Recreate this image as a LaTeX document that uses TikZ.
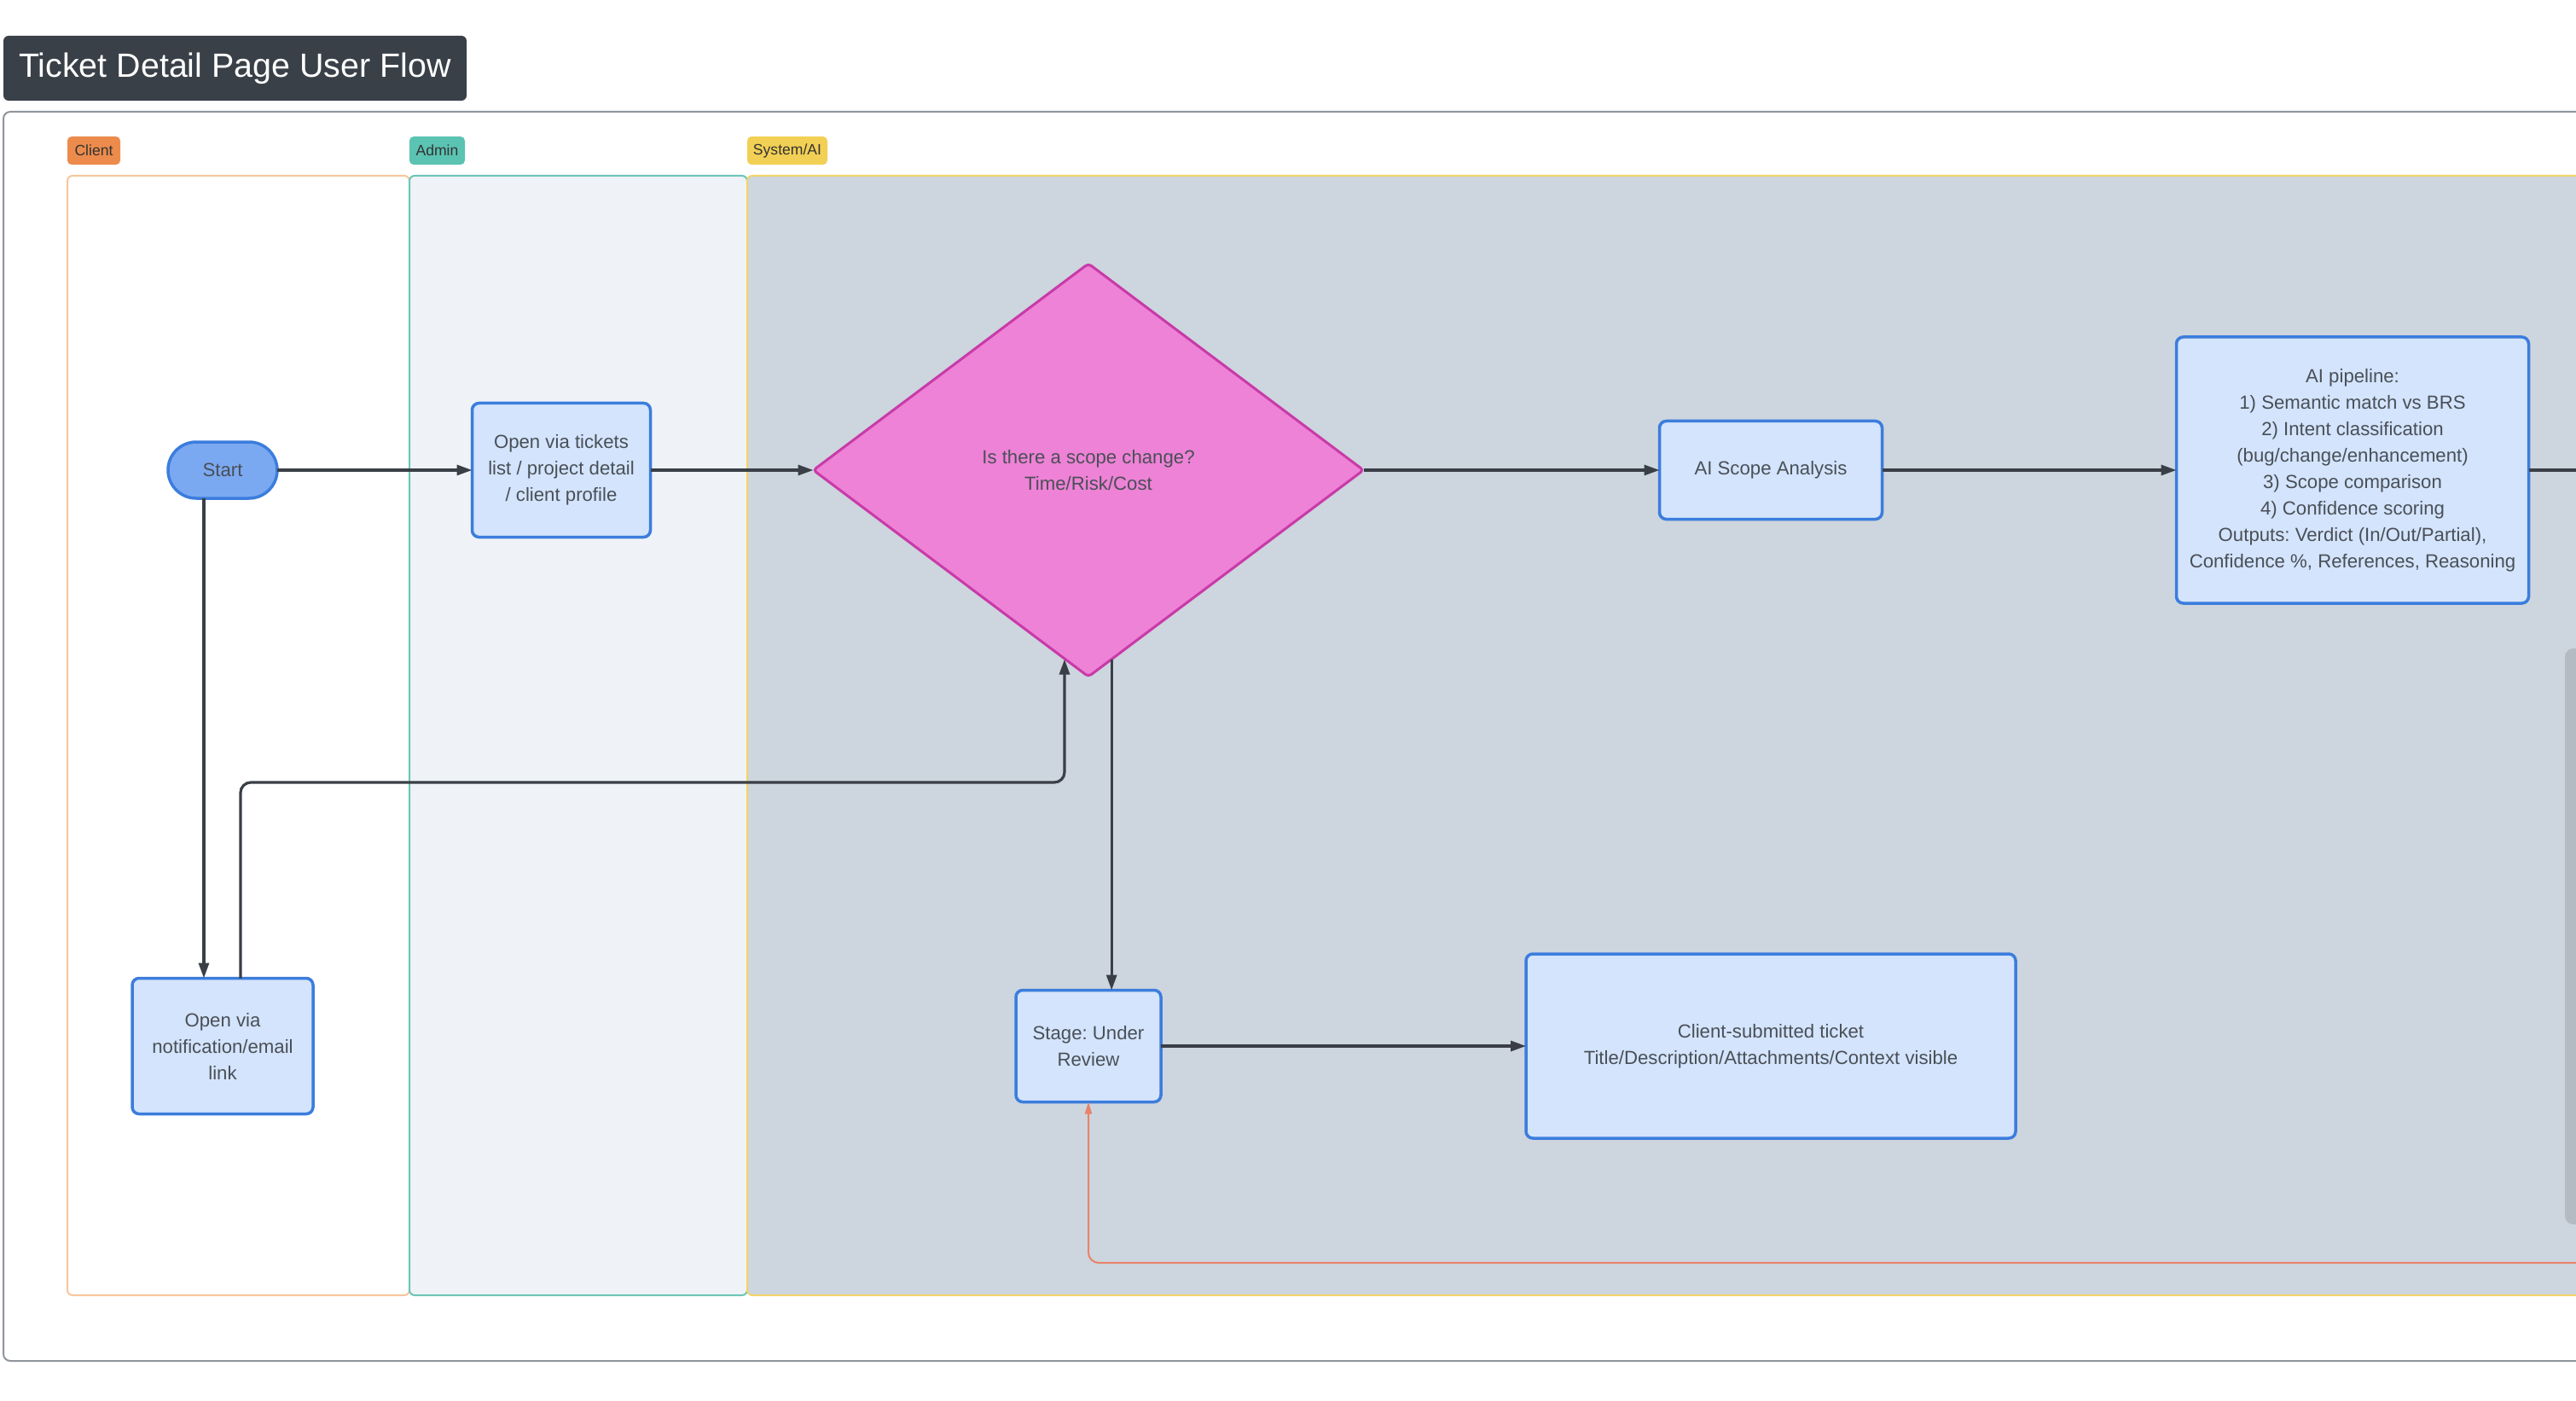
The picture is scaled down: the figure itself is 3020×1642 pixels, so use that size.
\documentclass[tikz,border=0pt]{standalone}
\usepackage{fontspec}
\setmainfont{Liberation Sans}
\frenchspacing
\usetikzlibrary{shapes.geometric,arrows.meta}
\definecolor{txtgray}{HTML}{4A4F57}
\definecolor{boxfill}{HTML}{D3E4FC}
\definecolor{boxline}{HTML}{3B7DDD}
\definecolor{startfill}{HTML}{7BA9F1}
\definecolor{decfill}{HTML}{EE82D6}
\definecolor{decline}{HTML}{C93AA8}
\definecolor{arrcol}{HTML}{3A3F47}
\definecolor{orcol}{HTML}{E8836A}
\definecolor{adminfill}{HTML}{EFF3F7}
\definecolor{sysfill}{HTML}{CDD5DE}
\definecolor{clientline}{HTML}{F6C79C}
\definecolor{adminline}{HTML}{6CC6B8}
\definecolor{sysline}{HTML}{F0D46A}
\definecolor{clientbadge}{HTML}{EC8B4C}
\definecolor{adminbadge}{HTML}{5BC3B2}
\definecolor{sysbadge}{HTML}{F2D055}
\definecolor{titlefill}{HTML}{3A4048}
\definecolor{framecol}{HTML}{8F959C}
\definecolor{scrollcol}{HTML}{B4BBC3}
\begin{document}
\begin{tikzpicture}[x=0.5pt,y=-0.5pt,
  basetext/.style={font=\fontsize{11.1}{15.5}\selectfont\frenchspacing, text=txtgray, align=center},
  procbox/.style={basetext, draw=boxline, fill=boxfill, line width=1.75pt, rounded corners=4pt, inner sep=0pt, outer sep=0pt},
  startbox/.style={basetext, draw=boxline, fill=startfill, line width=1.75pt, rounded corners=16.5pt, inner sep=0pt, outer sep=0pt, minimum width=64pt, minimum height=33pt},
  decbox/.style={basetext, diamond, draw=decline, fill=decfill, line width=1.5pt, rounded corners=2pt, inner sep=0pt, outer sep=0pt, minimum width=322.5pt, minimum height=242pt},
  badge/.style={font=\fontsize{8.8}{10}\selectfont, text=black!80, rounded corners=2.5pt, inner sep=0pt, minimum height=16.5pt},
  arr/.style={draw=arrcol, line width=1.6pt, -{Triangle[length=9pt,width=6pt]}, rounded corners=6pt},
  plain/.style={draw=arrcol, line width=1.6pt},
  orarr/.style={draw=orcol, line width=1pt, -{Triangle[length=7pt,width=4pt]}, rounded corners=6pt},
  lane/.style={line width=1pt, rounded corners=3pt}
]
\useasboundingbox (0,0) rectangle (3020,1642);
\clip (0,0) rectangle (3020,1642);
\fill[white] (0,0) rectangle (3020,1642);

% title
\node[fill=titlefill, text=white, rounded corners=3pt, minimum width=271.5pt, minimum height=38pt, inner sep=0pt, font=\fontsize{19.7}{22}\selectfont] (title) at (275.5,80) {Ticket Detail Page User Flow};

% outer frame
\draw[draw=framecol, line width=1pt, rounded corners=4pt] (4,131) rectangle (3060,1595);

% lanes
\draw[lane, draw=clientline, fill=white] (79,206) rectangle (480,1518);
\draw[lane, draw=adminline, fill=adminfill] (480,206) rectangle (876,1518);
\draw[lane, draw=sysline, fill=sysfill] (876,206) rectangle (3060,1518);

% badges
\node[badge, fill=clientbadge, minimum width=31pt] (bclient) at (110,176.5) {Client};
\node[badge, fill=adminbadge, minimum width=32.5pt] (badmin) at (512.5,176.5) {Admin};
\node[badge, fill=sysbadge, minimum width=47pt] (bsys) at (923,176.5) {System/AI};

% scrollbar
\fill[scrollcol, rounded corners=5pt] (3007,760) rectangle (3030,1435);

% nodes
\node[startbox] (start) at (261,551) {Start};
\node[procbox, minimum width=104.5pt, minimum height=78.5pt] (tickets) at (658,551) {Open via tickets\\list / project detail\\/ client profile};
\node[decbox] (dec) at (1276,551) {Is there a scope change?\\Time/Risk/Cost};
\node[procbox, minimum width=130.5pt, minimum height=57.5pt] (scope) at (2076,551) {AI Scope Analysis};
\node[procbox, minimum width=206.5pt, minimum height=156pt] (pipe) at (2758,551) {AI pipeline:\\1) Semantic match vs BRS\\2) Intent classification\\(bug/change/enhancement)\\3) Scope comparison\\4) Confidence scoring\\Outputs: Verdict (In/Out/Partial),\\Confidence \%, References, Reasoning};
\node[procbox, minimum width=106pt, minimum height=79.5pt] (notif) at (261,1226) {Open via\\notification/email\\link};
\node[procbox, minimum width=85pt, minimum height=65.5pt] (stage) at (1276,1226) {Stage: Under\\Review};
\node[procbox, minimum width=287pt, minimum height=108pt] (ticket) at (2076,1226) {Client-submitted ticket\\Title/Description/Attachments/Context visible};

\coordinate (pipeout) at (3030,551);
\coordinate (lp) at (1248,917);
\coordinate (orin) at (3030,1480);

% connectors
\draw[arr] (start) -- (tickets);
\draw[arr] (tickets) -- (dec);
\draw[arr] (dec) -- (scope);
\draw[arr] (scope) -- (pipe);
\draw[plain] (pipe.east) -- (pipeout);
\draw[arr] ([xshift=-11pt]start.south) -- ([xshift=-11pt]notif.north);
\draw[arr] ([xshift=10.5pt]notif.north) |- (lp) -- (lp |- dec.-97);
\draw[arr] (dec.-83) -- (dec.-83 |- stage.north);
\draw[arr] (stage) -- (ticket);
\draw[orarr] (orin) -| (stage.south);
\end{tikzpicture}
\end{document}
